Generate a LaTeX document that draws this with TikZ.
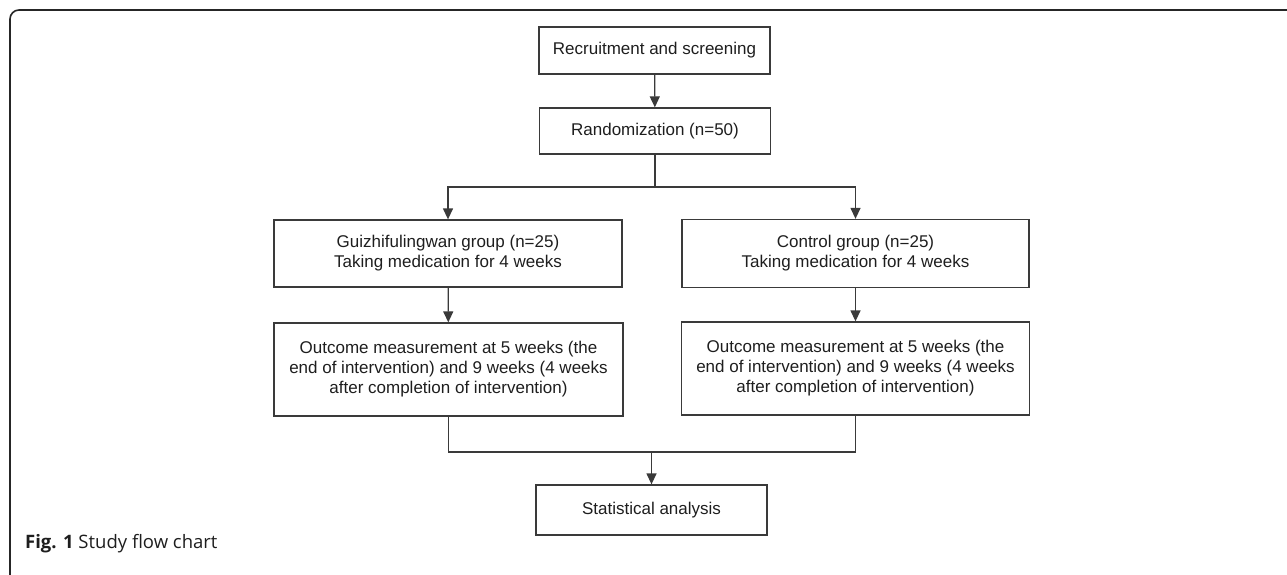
\documentclass[tikz,border=0pt]{standalone}
\usepackage{fontspec}
\setmainfont{Liberation Sans}
\newfontfamily\capfont{Open Sans}
\usetikzlibrary{arrows.meta}
\definecolor{linec}{HTML}{3A3A3A}
\definecolor{textc}{HTML}{1E1E1E}
\tikzset{
  flowbox/.style={draw=linec, line width=1.3pt, rectangle, inner sep=0pt, align=center,
    text=textc, font=\fontsize{17}{20}\selectfont},
  conn/.style={draw=linec, line width=1.3pt},
  arr/.style={conn, -{Triangle[length=11pt,width=10pt]}},
}
\begin{document}
\begin{tikzpicture}[x=1pt,y=-1pt]
\useasboundingbox (0,0) rectangle (1287,575);
\begin{scope}
\clip (0,0) rectangle (1287,575);
\draw[line width=1.6pt, black!85, rounded corners=9pt] (10,10) rectangle (1300,584);
\end{scope}

\node[flowbox, minimum width=231pt, minimum height=47pt] (rec) at (654.5,50.5) {Recruitment and screening};
\node[flowbox, minimum width=231pt, minimum height=46pt] (rand) at (655,131) {Randomization (n=50)};
\node[flowbox, minimum width=348pt, minimum height=67pt] (g1) at (448,253.5) {Guizhifulingwan group (n=25)\\Taking medication for 4 weeks};
\node[flowbox, minimum width=347pt, minimum height=68pt] (c1) at (855.5,253.5) {Control group (n=25)\\Taking medication for 4 weeks};
\node[flowbox, minimum width=349pt, minimum height=93pt] (g2) at (448.5,369.5) {Outcome measurement at 5 weeks (the\\end of intervention) and 9 weeks (4 weeks\\after completion of intervention)};
\node[flowbox, minimum width=348pt, minimum height=93pt] (c2) at (855.5,368.5) {Outcome measurement at 5 weeks (the\\end of intervention) and 9 weeks (4 weeks\\after completion of intervention)};
\node[flowbox, minimum width=231pt, minimum height=50pt] (stat) at (651.5,510) {Statistical analysis};

\coordinate (split) at (655,187);
\coordinate (merge) at (651.5,452);

\draw[arr] (rec) -- (rand);
\draw[conn] (rand.south) -- (split);
\draw[arr] (split) -| (g1.north);
\draw[arr] (split) -| (c1.north);
\draw[arr] (g1) -- (g2);
\draw[arr] (c1) -- (c2);
\draw[conn] (g2.south) |- (merge);
\draw[conn] (c2.south) |- (merge);
\draw[arr] (merge) -- (stat.north);

\node[anchor=base west, inner sep=0pt, text=textc, font=\capfont\fontsize{18.5}{21}\selectfont] (cap) at (25,548) {\textbf{Fig. 1} Study flow chart};
\end{tikzpicture}
\end{document}
